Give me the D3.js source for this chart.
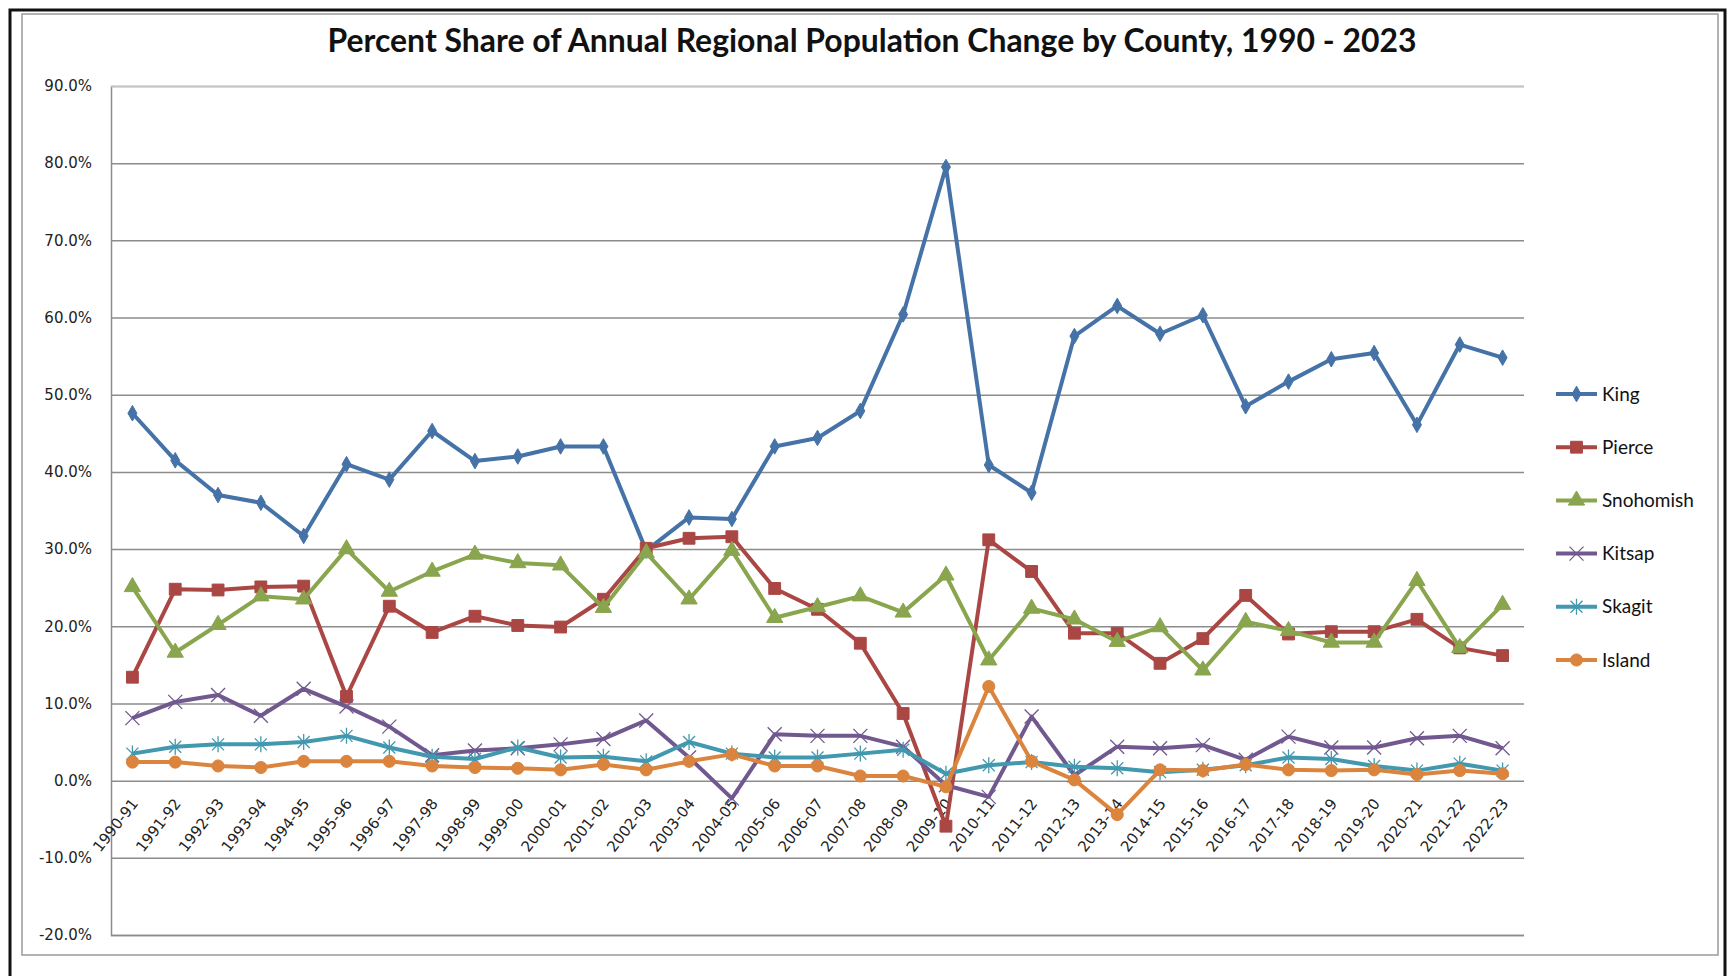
<!DOCTYPE html>
<html>
<head>
<meta charset="utf-8">
<script src="https://cdn.jsdelivr.net/npm/d3@7"></script>
<style>
    body { margin: 0; background: #fff; }
    svg { display: block; }
    .axis-y text, .axis-x text {
        font-family: "DejaVu Sans", Verdana, sans-serif !important;
        font-size: 15px !important;
        fill: #222;
    }
</style>
</head>
<body>
<div id="chart"></div>
<script>
const years = ["1990-91", "1991-92", "1992-93", "1993-94", "1994-95", "1995-96", "1996-97", "1997-98",
    "1998-99", "1999-00", "2000-01", "2001-02", "2002-03", "2003-04", "2004-05", "2005-06", "2006-07",
    "2007-08", "2008-09", "2009-10", "2010-11", "2011-12", "2012-13", "2013-14", "2014-15", "2015-16",
    "2016-17", "2017-18", "2018-19", "2019-20", "2020-21", "2021-22", "2022-23"];

const king = [47.6, 41.5, 37.0, 36.0, 31.7, 41.0, 39.0, 45.3, 41.4, 42.0, 43.3, 43.3, 29.8, 34.1, 33.9,
    43.3, 44.4, 47.9, 60.4, 79.5, 40.9, 37.3, 57.6, 61.5, 57.9, 60.3, 48.5, 51.7, 54.6, 55.4, 46.1, 56.5, 54.8];
const pierce = [13.4, 24.8, 24.7, 25.1, 25.2, 10.9, 22.6, 19.2, 21.3, 20.1, 19.9, 23.5, 30.1, 31.4, 31.6,
    24.9, 22.2, 17.8, 8.7, -5.9, 31.2, 27.1, 19.1, 19.1, 15.2, 18.4, 24.0, 19.0, 19.3, 19.3, 20.9, 17.2, 16.2];
const snohomish = [25.1, 16.6, 20.2, 23.9, 23.5, 30.0, 24.5, 27.1, 29.3, 28.2, 27.9, 22.4, 29.5, 23.5, 29.8,
    21.1, 22.5, 23.9, 21.8, 26.6, 15.6, 22.3, 20.9, 18.0, 19.9, 14.3, 20.6, 19.4, 17.9, 17.9, 25.9, 17.2, 22.8];
const kitsap = [8.1, 10.2, 11.1, 8.4, 11.9, 9.6, 7.0, 3.3, 3.9, 4.2, 4.7, 5.4, 7.8, 3.0, -2.3,
    6.0, 5.8, 5.8, 4.4, -0.6, -2.1, 8.3, 0.7, 4.4, 4.2, 4.6, 2.7, 5.7, 4.3, 4.3, 5.5, 5.8, 4.2];
const skagit = [3.5, 4.4, 4.7, 4.7, 5.0, 5.8, 4.3, 3.1, 2.8, 4.3, 3.0, 3.1, 2.5, 5.0, 3.5,
    3.0, 3.0, 3.5, 4.0, 0.9, 2.0, 2.4, 1.8, 1.6, 1.1, 1.4, 2.0, 3.0, 2.8, 1.9, 1.3, 2.2, 1.3];
const island = [2.4, 2.4, 1.9, 1.7, 2.5, 2.5, 2.5, 1.9, 1.7, 1.6, 1.4, 2.1, 1.4, 2.5, 3.4,
    1.9, 1.9, 0.6, 0.6, -0.8, 12.2, 2.5, 0.1, -4.4, 1.4, 1.3, 2.1, 1.4, 1.3, 1.4, 0.8, 1.3, 0.9];

const yTicks = [-20, -10, 0, 10, 20, 30, 40, 50, 60, 70, 80, 90];

const series = [
    {name: "King", values: king, color: "#4572A7", marker: "diamond"},
    {name: "Pierce", values: pierce, color: "#AA4643", marker: "square"},
    {name: "Snohomish", values: snohomish, color: "#89A54E", marker: "triangle"},
    {name: "Kitsap", values: kitsap, color: "#71588F", marker: "x"},
    {name: "Skagit", values: skagit, color: "#4198AF", marker: "star"},
    {name: "Island", values: island, color: "#DB843D", marker: "circle"}
];

const width = 1735;
const height = 976;
const plot = {left: 111, right: 1524, top: 86, bottom: 935};

const svg = d3.select("#chart").append("svg")
    .attr("width", width)
    .attr("height", height);

// frames
svg.append("rect")
    .attr("x", 10).attr("y", 10)
    .attr("width", 1715).attr("height", 990)
    .attr("fill", "none")
    .attr("stroke", "#111")
    .attr("stroke-width", 3);

svg.append("rect")
    .attr("x", 22).attr("y", 14)
    .attr("width", 1696).attr("height", 941)
    .attr("fill", "none")
    .attr("stroke", "#9a9a9a")
    .attr("stroke-width", 1.5);

svg.append("text")
    .attr("x", 872)
    .attr("y", 52)
    .attr("text-anchor", "middle")
    .attr("textLength", 1089)
    .attr("lengthAdjust", "spacingAndGlyphs")
    .style("font-family", "Lato, 'Open Sans', sans-serif")
    .style("font-weight", "bold")
    .style("font-size", "33px")
    .style("fill", "#111")
    .text("Percent Share of Annual Regional Population Change by County, 1990 - 2023");

const x = d3.scalePoint()
    .domain(years)
    .range([plot.left, plot.right])
    .padding(0.5);

const y = d3.scaleLinear()
    .domain([-20, 90])
    .range([plot.bottom, plot.top]);

// y axis + gridlines
const yAxis = svg.append("g")
    .attr("class", "axis-y")
    .attr("transform", `translate(${plot.left},0)`)
    .call(d3.axisLeft(y)
        .tickValues(yTicks)
        .tickSize(-(plot.right - plot.left))
        .tickPadding(19)
        .tickFormat(d => d.toFixed(1) + "%"))
    .attr("font-size", 15)
    .attr("font-family", "DejaVu Sans");

yAxis.select(".domain")
    .attr("stroke", "#8c8c8c")
    .attr("stroke-width", 1.5);

yAxis.selectAll(".tick line")
    .attr("stroke", d => d === 90 ? "#c4c4c4" : "#8c8c8c")
    .attr("stroke-width", 1.5);

// category labels next to the 0% line
const xAxis = svg.append("g")
    .attr("class", "axis-x")
    .attr("transform", `translate(0,${y(0)})`)
    .call(d3.axisBottom(x).tickSize(0).tickPadding(0))
    .attr("font-size", 15)
    .attr("font-family", "DejaVu Sans");

xAxis.select(".domain").remove();

xAxis.selectAll(".tick text")
    .attr("text-anchor", "end")
    .attr("x", 0)
    .attr("y", 0)
    .attr("dy", 0)
    .attr("transform", "translate(6,23) rotate(-52)");

function markerPath(type) {
    if (type === "diamond") return d3.symbol().type(d3.symbolDiamond).size(70)();
    if (type === "square") return d3.symbol().type(d3.symbolSquare).size(140)();
    if (type === "triangle") return d3.symbol().type(d3.symbolTriangle).size(115)();
    if (type === "circle") return d3.symbol().type(d3.symbolCircle).size(115)();
    if (type === "x") return "M-7,-7L7,7M-7,7L7,-7";
    return "M-6,-6L6,6M-6,6L6,-6M0,-8L0,8";
}

function drawMarker(sel, s) {
    const stroked = s.marker === "x" || s.marker === "star";
    sel.attr("d", markerPath(s.marker))
        .attr("fill", stroked ? "none" : s.color)
        .attr("stroke", s.color)
        .attr("stroke-width", stroked ? 1.3 : 1);
}

const line = d3.line()
    .x((d, i) => x(years[i]))
    .y(d => y(d));

const lines = svg.append("g");

series.forEach(s => {
    const g = lines.append("g");
    g.append("path")
        .datum(s.values)
        .attr("fill", "none")
        .attr("stroke", s.color)
        .attr("stroke-width", 4)
        .attr("stroke-linejoin", "round")
        .attr("d", line);

    g.selectAll("path.marker")
        .data(s.values)
        .join("path")
        .attr("class", "marker")
        .attr("transform", (d, i) => `translate(${x(years[i])},${y(d)})`)
        .call(sel => drawMarker(sel, s));
});

// legend
const legend = svg.append("g")
    .attr("transform", "translate(1556,394)");

const item = legend.selectAll("g")
    .data(series)
    .join("g")
    .attr("transform", (d, i) => `translate(0,${i * 53.2})`);

item.append("line")
    .attr("x1", 0).attr("x2", 41)
    .attr("y1", 0).attr("y2", 0)
    .attr("stroke", d => d.color)
    .attr("stroke-width", 4);

item.append("path")
    .attr("transform", "translate(20.5,0)")
    .each(function (d) { drawMarker(d3.select(this), d); });

item.append("text")
    .attr("x", 46)
    .attr("dy", "0.35em")
    .style("font-family", "Lato, 'Open Sans', sans-serif")
    .style("font-size", "19px")
    .style("fill", "#111")
    .text(d => d.name);
</script>
</body>
</html>
